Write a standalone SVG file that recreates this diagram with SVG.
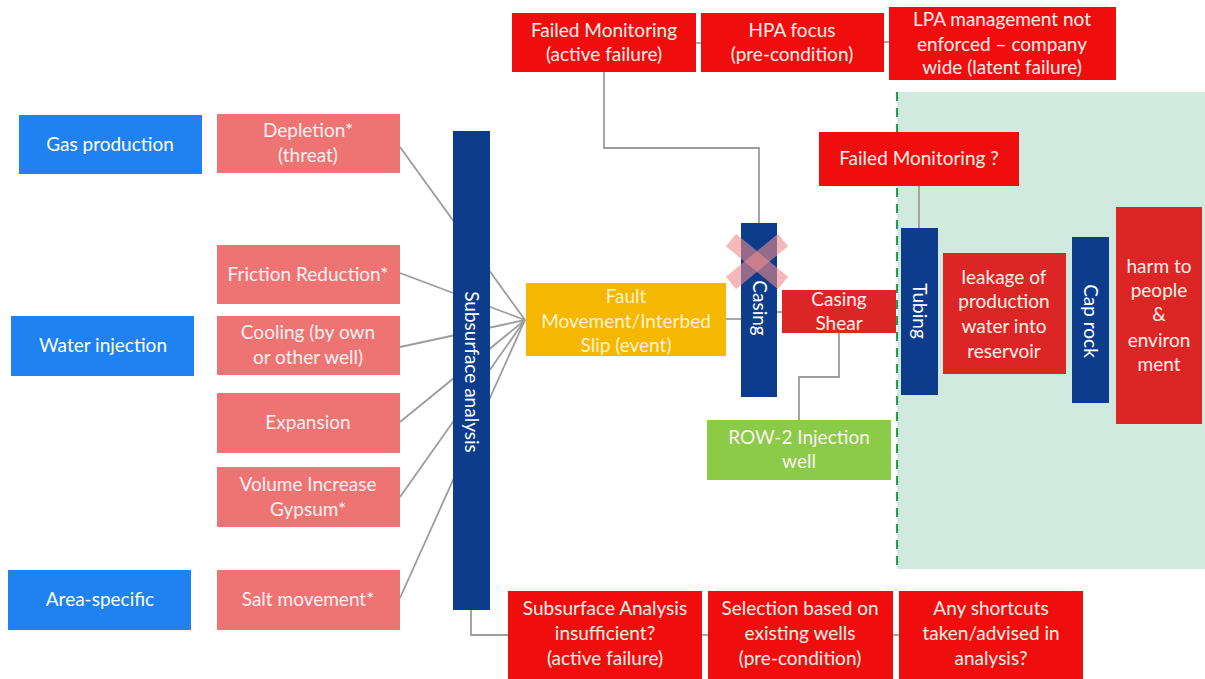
<svg xmlns="http://www.w3.org/2000/svg" width="1205" height="679" viewBox="0 0 1205 679">
<style>
text{font-family:Lato,"Noto Sans","Liberation Sans",sans-serif;font-size:19px;text-anchor:middle}
.tb{fill:#ffffff}
.tr{fill:#fff1ea}
.tp{fill:#fdf0f0}
.src{fill:#1f82f0}
.pink{fill:#ee7474}
.bar{fill:#0d3c8c}
.red{fill:#f00d0d}
.dred{fill:#dc2626}
.con{stroke:#9c9c9c;stroke-width:1.8;fill:none}
</style>
<rect width="1205" height="679" fill="#ffffff"/>
<g id="zone">
<rect x="897" y="92" width="308" height="477" fill="#d1eadf"/>
<line x1="897" y1="92" x2="897" y2="569" stroke="#2a9a5a" stroke-width="2.2" stroke-dasharray="9,7"/>
</g>
<g id="connectors">
<line class="con" x1="400" y1="147" x2="525" y2="320"/>
<line class="con" x1="400" y1="273" x2="525" y2="320"/>
<line class="con" x1="400" y1="347" x2="525" y2="320"/>
<line class="con" x1="400" y1="422" x2="525" y2="320"/>
<line class="con" x1="400" y1="497" x2="525" y2="320"/>
<line class="con" x1="400" y1="598" x2="525" y2="320"/>
<line class="con" x1="726" y1="319" x2="741" y2="319"/>
<line class="con" x1="777" y1="312" x2="782" y2="312"/>
<polyline class="con" points="604,72 604,148 759,148 759,223"/>
<line class="con" x1="696" y1="43" x2="701" y2="43"/>
<line class="con" x1="884" y1="42" x2="889" y2="42"/>
<line class="con" x1="919" y1="186" x2="919" y2="228"/>
<polyline class="con" points="839,333 839,377 799,377 799,420"/>
<polyline class="con" points="471,610 471,635 508,635"/>
<line class="con" x1="702" y1="635" x2="708" y2="635"/>
<line class="con" x1="893" y1="635" x2="899" y2="635"/>
</g>
<g id="gas-production"><rect class="src" x="19" y="115" width="183" height="59"/><text class="tb" x="110" y="151">Gas production</text></g>
<g id="water-injection"><rect class="src" x="11" y="316" width="183" height="60"/><text class="tb" x="103" y="352">Water injection</text></g>
<g id="area-specific"><rect class="src" x="8" y="570" width="183" height="60"/><text class="tb" x="100" y="606">Area-specific</text></g>
<g id="depletion"><rect class="pink" x="217" y="114" width="183" height="59"/><text class="tp" x="308" y="137">Depletion*</text><text class="tp" x="308" y="162">(threat)</text></g>
<g id="friction"><rect class="pink" x="217" y="245" width="183" height="59"/><text class="tp" x="308" y="281">Friction Reduction*</text></g>
<g id="cooling"><rect class="pink" x="217" y="316" width="183" height="59"/><text class="tp" x="308" y="339">Cooling (by own</text><text class="tp" x="308" y="364">or other well)</text></g>
<g id="expansion"><rect class="pink" x="217" y="393" width="183" height="60"/><text class="tp" x="308" y="429">Expansion</text></g>
<g id="volume"><rect class="pink" x="217" y="467" width="183" height="60"/><text class="tp" x="308" y="491">Volume Increase</text><text class="tp" x="308" y="516">Gypsum*</text></g>
<g id="salt"><rect class="pink" x="217" y="570" width="183" height="60"/><text class="tp" x="308" y="606">Salt movement*</text></g>
<g id="subsurface-analysis"><rect class="bar" x="453" y="131" width="37" height="479"/><text class="tb" transform="translate(471,372) rotate(90)" y="6">Subsurface analysis</text></g>
<g id="fault"><rect x="526" y="283" width="200" height="73" fill="#f6b700"/><text x="626" y="303" fill="#fff3d2">Fault</text><text x="626" y="328" fill="#fff3d2">Movement/Interbed</text><text x="626" y="352" fill="#fff3d2">Slip (event)</text></g>
<g id="casing"><rect class="bar" x="741" y="223" width="36" height="174"/><text class="tb" transform="translate(759,308) rotate(90)" y="6">Casing</text>
<g stroke="#f08a8a" stroke-opacity="0.6" stroke-width="16"><line x1="731" y1="240" x2="783" y2="283"/><line x1="783" y1="240" x2="731" y2="283"/></g></g>
<g id="failed-monitoring"><rect class="red" x="512" y="13" width="184" height="59"/><text class="tr" x="604" y="37">Failed Monitoring</text><text class="tr" x="604" y="61">(active failure)</text></g>
<g id="hpa"><rect class="red" x="701" y="13" width="183" height="59"/><text class="tr" x="792" y="37">HPA focus</text><text class="tr" x="792" y="61">(pre-condition)</text></g>
<g id="lpa"><rect class="red" x="889" y="7" width="227" height="73"/><text class="tr" x="1002" y="26">LPA management not</text><text class="tr" x="1002" y="51">enforced – company</text><text class="tr" x="1002" y="74">wide (latent failure)</text></g>
<g id="failed-monitoring-q"><rect class="red" x="819" y="132" width="200" height="54"/><text class="tr" x="919" y="165">Failed Monitoring ?</text></g>
<g id="casing-shear"><rect class="dred" x="782" y="290" width="114" height="43"/><text class="tr" x="839" y="306">Casing</text><text class="tr" x="839" y="330">Shear</text></g>
<g id="row2"><rect x="707" y="420" width="184" height="60" fill="#8bcb47"/><text class="tp" x="799" y="444">ROW-2 Injection</text><text class="tp" x="799" y="468">well</text></g>
<g id="tubing"><rect class="bar" x="901" y="228" width="37" height="167"/><text class="tb" transform="translate(919,311) rotate(90)" y="6">Tubing</text></g>
<g id="leakage"><rect class="dred" x="943" y="253" width="123" height="121"/><text class="tr" x="1004" y="284">leakage of</text><text class="tr" x="1004" y="308">production</text><text class="tr" x="1004" y="333">water into</text><text class="tr" x="1004" y="358">reservoir</text></g>
<g id="cap-rock"><rect class="bar" x="1072" y="237" width="37" height="166"/><text class="tb" transform="translate(1090,321) rotate(90)" y="6">Cap rock</text></g>
<g id="harm"><rect class="dred" x="1116" y="207" width="86" height="217"/><text class="tr" x="1159" y="273">harm to</text><text class="tr" x="1159" y="297">people</text><text class="tr" x="1159" y="321">&amp;</text><text class="tr" x="1159" y="347">environ</text><text class="tr" x="1159" y="371">ment</text></g>
<g id="subsurface-insufficient"><rect class="red" x="508" y="591" width="194" height="88"/><text class="tr" x="605" y="615">Subsurface Analysis</text><text class="tr" x="605" y="640">insufficient?</text><text class="tr" x="605" y="665">(active failure)</text></g>
<g id="selection"><rect class="red" x="708" y="591" width="185" height="88"/><text class="tr" x="800" y="615">Selection based on</text><text class="tr" x="800" y="640">existing wells</text><text class="tr" x="800" y="665">(pre-condition)</text></g>
<g id="shortcuts"><rect class="red" x="899" y="591" width="184" height="88"/><text class="tr" x="991" y="615">Any shortcuts</text><text class="tr" x="991" y="640">taken/advised in</text><text class="tr" x="991" y="665">analysis?</text></g>
</svg>
